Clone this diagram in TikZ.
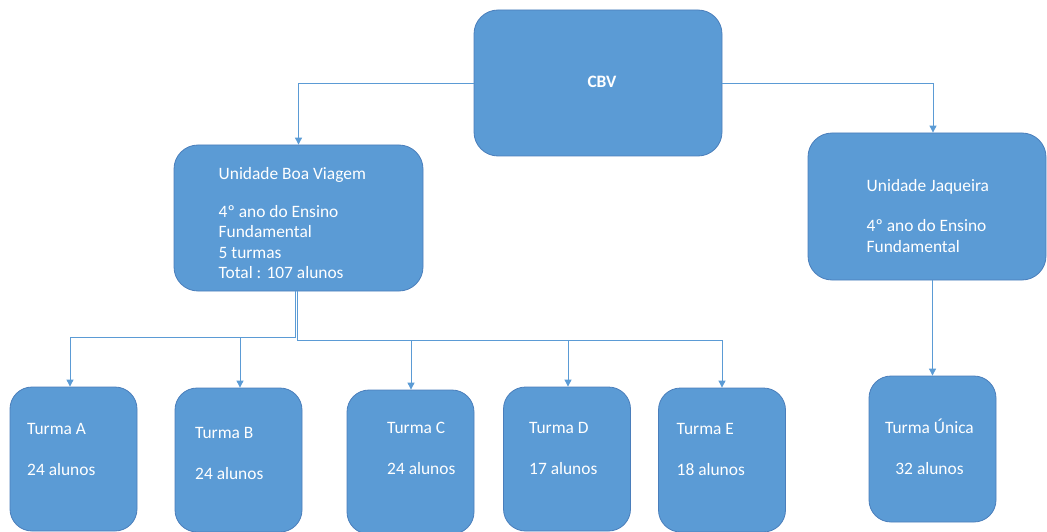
\documentclass[tikz,border=0pt]{standalone}
\usepackage{fontspec}
\setmainfont{Carlito}
\usetikzlibrary{arrows.meta}
\definecolor{boxblue}{HTML}{5B9BD5}
\definecolor{edgeblue}{HTML}{4A7EBB}
\definecolor{linkblue}{HTML}{5B9BD5}
\begin{document}
\begin{tikzpicture}
    [x=1pt, y=-1pt,
    unit/.style={draw=edgeblue, fill=boxblue, line width=0.8pt, rounded corners=24pt, inner sep=0pt},
    turma/.style={unit, rounded corners=22pt, minimum width=127pt, minimum height=144pt},
    txt/.style={text=white, inner sep=0pt, align=left, anchor=base west, font=\fontsize{17.4}{20.5}\selectfont},
    link/.style={draw=linkblue, line width=0.9pt, -{Triangle[width=7pt,length=7pt]}}]
    \useasboundingbox (0,0) rectangle (1047,532);
    % boxes
    \node[unit, minimum width=248pt, minimum height=146pt] (cbv) at (598, 83) {};
    \node[unit, minimum width=249pt, minimum height=146pt] (boa) at (298.5, 218) {};
    \node[unit, minimum width=238pt, minimum height=147pt] (jaq) at (927, 206.5) {};
    \node[turma] (ta) at (73.5, 459) {};
    \node[turma] (tb) at (238.5, 460) {};
    \node[turma] (tc) at (410.5, 462) {};
    \node[turma] (td) at (567, 459) {};
    \node[turma] (te) at (722, 460) {};
    \node[turma, minimum height=146pt] (tu) at (932.5, 449) {};
    % texts (placed by the baseline of their last line)
    \node[txt, anchor=center, font=\fontsize{17.4}{20.5}\selectfont\bfseries] (cbvtext) at (602, 82) {CBV};
    \node[txt] (boatext) at (218.5, 278.5) {Unidade Boa Viagem\\[17.5pt]4º ano do Ensino\\Fundamental\\5 turmas\\Total : 107 alunos};
    \node[txt] (jaqtext) at (866.5, 252.3) {Unidade Jaqueira\\[19.5pt]4º ano do Ensino\\Fundamental};
    \node[txt] (tatext) at (27, 475) {Turma A\\[20.5pt]24 alunos};
    \node[txt] (tbtext) at (195, 479) {Turma B\\[20.5pt]24 alunos};
    \node[txt] (tctext) at (387, 474.3) {Turma C\\[20.5pt]24 alunos};
    \node[txt] (tdtext) at (529, 474.3) {Turma D\\[20.5pt]17 alunos};
    \node[txt] (tetext) at (676.5, 475) {Turma E\\[20.5pt]18 alunos};
    \node[txt, align=center, anchor=base] (tutext) at (929.5, 474.3) {Turma Única\\[20.5pt]32 alunos};
    %
    \coordinate (busl) at (295, 337);
    \coordinate (busr) at (297, 340);
    \draw[link] (cbv.west) -| (boa.north);
    \draw[link] (cbv.east) -| ([xshift=6pt]jaq.north);
    \draw[link] (boa.south -| busl) -- (busl) -| ([xshift=-3.5pt]ta.north);
    \draw[link] (boa.south -| busl) -- (busl) -| ([xshift=1.5pt]tb.north);
    \draw[link] (boa.south -| busr) -- (busr) -| ([xshift=0.5pt]tc.north);
    \draw[link] (boa.south -| busr) -- (busr) -| ([xshift=1pt]td.north);
    \draw[link] (boa.south -| busr) -- (busr) -| (te.north);
    \draw[link] (jaq.south -| tu.north) -- (tu.north);
\end{tikzpicture}
\end{document}
